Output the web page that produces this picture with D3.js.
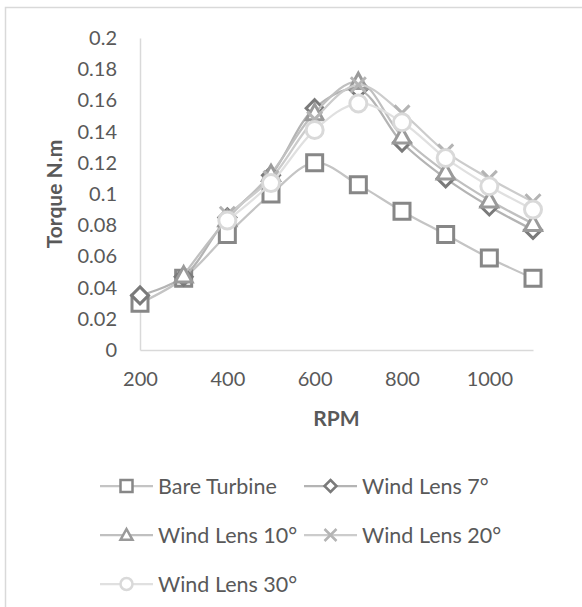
<!DOCTYPE html>
<html>
<head>
<meta charset="utf-8">
<script src="https://cdn.jsdelivr.net/npm/d3@7/dist/d3.min.js"></script>
<style>
  html, body { margin: 0; padding: 0; background: #fff; }
  svg { display: block; }
  text { font-family: Lato, "Open Sans", sans-serif; fill: #595959; }
</style>
</head>
<body>
<svg id="chart" width="582" height="607"></svg>
<script>
// Torque vs rotor speed for the bare turbine and the wind-lens variants
const rpm = [200, 300, 400, 500, 600, 700, 800, 900, 1000, 1100];
const bareTurbine = [0.030, 0.046, 0.074, 0.100, 0.120, 0.106, 0.089, 0.074, 0.059, 0.046];
const windLens7 = [0.035, 0.047, 0.085, 0.112, 0.155, 0.167, 0.133, 0.110, 0.092, 0.077];
const windLens10 = [null, 0.048, 0.084, 0.113, 0.152, 0.172, 0.137, 0.114, 0.096, 0.081];
const windLens20 = [null, null, 0.087, 0.110, 0.148, 0.170, 0.152, 0.127, 0.110, 0.095];
const windLens30 = [null, null, 0.083, 0.107, 0.141, 0.158, 0.146, 0.123, 0.105, 0.090];
const seriesNames = ["Bare Turbine", "Wind Lens 7°", "Wind Lens 10°", "Wind Lens 20°", "Wind Lens 30°"];
const xTicks = [200, 400, 600, 800, 1000];
const yTicks = [0, 0.02, 0.04, 0.06, 0.08, 0.1, 0.12, 0.14, 0.16, 0.18, 0.2];

const series = [
  { name: seriesNames[0], values: bareTurbine, shape: "square",   stroke: "#878787", line: "#c4c4c4" },
  { name: seriesNames[1], values: windLens7,   shape: "diamond",  stroke: "#7a7a7a", line: "#b4b4b4" },
  { name: seriesNames[2], values: windLens10,  shape: "triangle", stroke: "#9a9a9a", line: "#c0c0c0" },
  { name: seriesNames[3], values: windLens20,  shape: "cross",    stroke: "#b4b4b4", line: "#cccccc" },
  { name: seriesNames[4], values: windLens30,  shape: "circle",   stroke: "#d9d9d9", line: "#e0e0e0" }
];

const svg = d3.select("#chart");

// chart frame
svg.append("rect")
  .attr("x", 5.5).attr("y", 7.5).attr("width", 620).attr("height", 640)
  .attr("fill", "#fff").attr("stroke", "#d9d9d9").attr("stroke-width", 1.5);

const x = d3.scaleLinear().domain([200, 1100]).range([140, 533]);
const y = d3.scaleLinear().domain([0, 0.2]).range([350, 38]);

// axes
const xAxis = svg.append("g").attr("transform", `translate(0,${y(0)})`)
  .call(d3.axisBottom(x).tickValues(xTicks).tickSize(0).tickPadding(22).tickFormat(d3.format("d")));
xAxis.select(".domain").attr("stroke", "#d9d9d9").attr("stroke-width", 1.5);
xAxis.selectAll("text").attr("font-size", "20px").attr("fill", "#595959");

const yAxis = svg.append("g").attr("transform", `translate(${x(200)},0)`)
  .call(d3.axisLeft(y).tickValues(yTicks).tickSize(0).tickPadding(23).tickFormat(d => String(+d.toFixed(2))));
yAxis.select(".domain").attr("stroke", "#d9d9d9").attr("stroke-width", 1.5);
yAxis.selectAll("text").attr("font-size", "20px").attr("fill", "#595959");
svg.selectAll(".tick text").attr("font-family", "Lato, 'Open Sans', sans-serif");

// axis titles
svg.append("text")
  .attr("x", (x.range()[0] + x.range()[1]) / 2).attr("y", 426)
  .attr("text-anchor", "middle").attr("font-size", "21px").attr("font-weight", "bold")
  .text("RPM");
svg.append("text")
  .attr("transform", `translate(62,${(y.range()[0] + y.range()[1]) / 2}) rotate(-90)`)
  .attr("text-anchor", "middle").attr("font-size", "21px").attr("font-weight", "bold")
  .text("Torque N.m");

// marker shapes, drawn around the origin
function markerPath(shape, s) {
  const h = s / 2;
  switch (shape) {
    case "square":   return `M${-h},${-h}H${h}V${h}H${-h}Z`;
    case "diamond":  return `M0,${-h}L${h},0L0,${h}L${-h},0Z`;
    case "triangle": return `M0,${-h}L${h},${h * 0.8}L${-h},${h * 0.8}Z`;
    case "cross":    return `M${-h},${-h}L${h},${h}M${h},${-h}L${-h},${h}`;
    case "circle":   return d3.arc()({ innerRadius: 0, outerRadius: h, startAngle: 0, endAngle: 2 * Math.PI });
  }
}
const markerSize = { square: 16, diamond: 17, triangle: 17, cross: 15, circle: 17 };

const line = d3.line()
  .defined(d => d.v != null)
  .x(d => x(d.r)).y(d => y(d.v))
  .curve(d3.curveCatmullRom.alpha(0.5));

series.forEach(s => {
  const pts = s.values.map((v, i) => ({ r: rpm[i], v }));
  const g = svg.append("g");
  g.append("path").datum(pts)
    .attr("d", line).attr("fill", "none")
    .attr("stroke", s.line).attr("stroke-width", 2.25);
  g.selectAll("path.marker").data(pts.filter(d => d.v != null)).join("path")
    .attr("class", "marker")
    .attr("transform", d => `translate(${x(d.r)},${y(d.v)})`)
    .attr("d", markerPath(s.shape, markerSize[s.shape]))
    .attr("fill", s.shape === "cross" ? "none" : "#fff")
    .attr("stroke", s.stroke).attr("stroke-width", 3);
});

// legend
const legendPos = [[100, 486], [304, 486], [100, 535], [304, 535], [100, 584]];
series.forEach((s, i) => {
  const [lx, ly] = legendPos[i];
  const g = svg.append("g").attr("transform", `translate(${lx},${ly})`);
  g.append("line").attr("x1", 0).attr("x2", 53).attr("y1", 0).attr("y2", 0)
    .attr("stroke", s.line).attr("stroke-width", 2.25);
  g.append("path").attr("transform", "translate(26.5,0)")
    .attr("d", markerPath(s.shape, 12))
    .attr("fill", s.shape === "cross" ? "none" : "#fff")
    .attr("stroke", s.stroke).attr("stroke-width", 2.5);
  g.append("text").attr("x", 58).attr("y", 7.5).attr("font-size", "21.5px").text(s.name);
});
</script>
</body>
</html>
